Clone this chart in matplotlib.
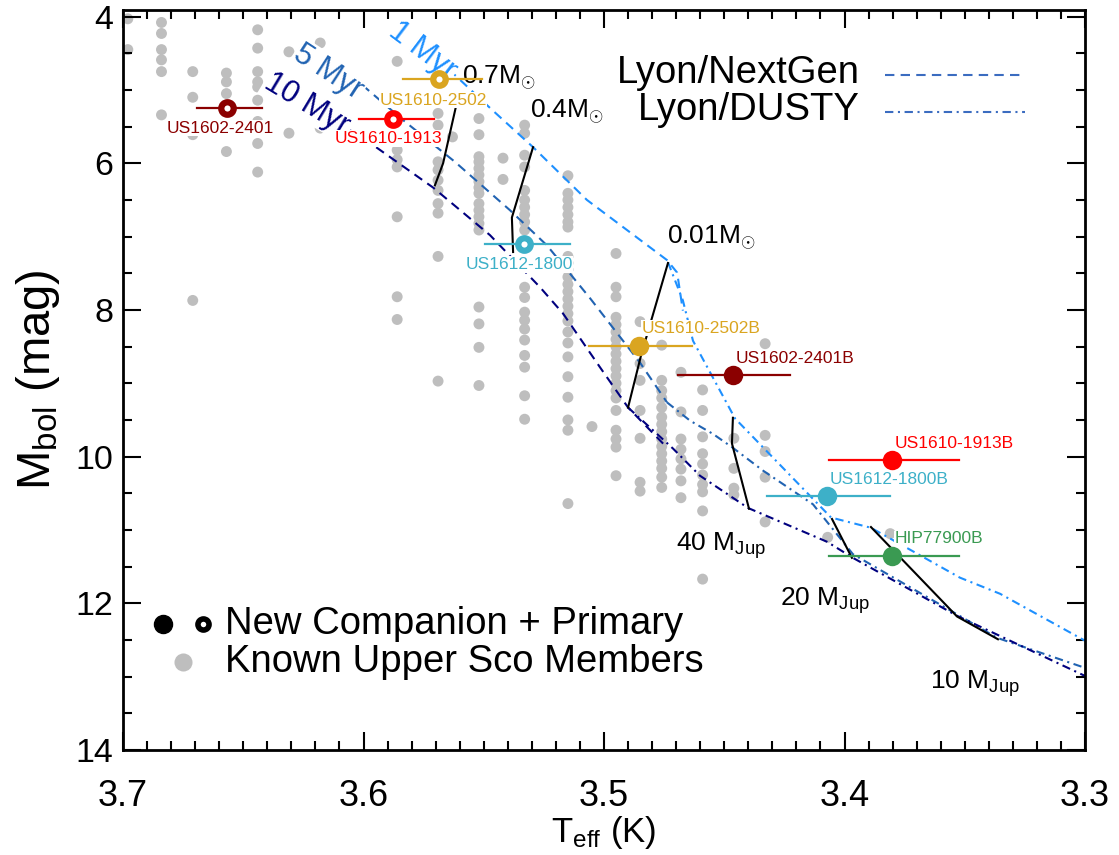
import matplotlib
matplotlib.use('Agg')
import matplotlib.pyplot as plt
from matplotlib.ticker import MultipleLocator

plt.rcParams['font.family'] = ['Liberation Sans', 'DejaVu Sans']
plt.rcParams['mathtext.fontset'] = 'custom'
plt.rcParams['mathtext.rm'] = 'Liberation Sans'
plt.rcParams['mathtext.it'] = 'Liberation Sans:italic'
plt.rcParams['mathtext.bf'] = 'Liberation Sans:bold'

# Known Upper Sco members: one Teff column per spectral type, Mbol values in each
member_teff = [3.698, 3.684, 3.671, 3.657, 3.644, 3.631, 3.618, 3.586, 3.569, 3.563,
               3.552, 3.542, 3.533, 3.515, 3.505, 3.495, 3.485, 3.476, 3.468, 3.459,
               3.446, 3.433, 3.407, 3.381]
member_mbol = [
    [4.03, 4.45],
    [4.08, 4.23, 4.45, 4.59, 4.75, 5.34],
    [4.75, 5.10, 5.61, 7.87],
    [4.77, 4.89, 5.05, 5.84],
    [4.18, 4.43, 4.75, 4.89, 4.96, 5.14, 5.43, 5.73, 6.12],
    [4.48, 5.59],
    [4.36, 5.52],
    [4.61, 5.14, 5.82, 5.95, 6.05, 6.73, 7.82, 8.13],
    [5.32, 5.48, 5.98, 6.09, 6.23, 6.37, 6.55, 6.68, 7.27, 8.97],
    [5.64],
    [5.39, 5.61, 5.91, 5.98, 6.07, 6.16, 6.25, 6.33, 6.41, 6.55, 6.64, 6.73, 6.82,
     6.91, 7.96, 8.19, 8.51, 9.03],
    [5.93, 6.22],
    [5.48, 5.59, 5.89, 6.05, 6.37, 6.50, 6.60, 6.70, 6.80, 6.91, 7.69, 7.83, 8.03,
     8.14, 8.26, 8.41, 8.62, 8.78, 9.17, 9.49],
    [6.17, 6.41, 6.50, 6.60, 6.70, 6.80, 6.87, 7.27, 7.36, 7.45, 7.55, 7.65, 7.75,
     7.85, 7.95, 8.05, 8.15, 8.30, 8.45, 8.64, 8.91, 9.19, 9.50, 9.64, 10.64],
    [9.59],
    [7.23, 7.69, 7.82, 8.10, 8.20, 8.30, 8.40, 8.50, 8.60, 8.70, 8.80, 8.90, 9.00,
     9.10, 9.20, 9.37, 9.64, 9.76, 9.87, 10.26],
    [8.16, 8.73, 8.96, 9.37, 9.75, 10.35, 10.47],
    [8.48, 8.96, 9.10, 9.20, 9.33, 9.46, 9.56, 9.66, 9.76, 9.86, 9.96, 10.06, 10.16,
     10.28, 10.42],
    [8.85, 9.39, 9.76, 9.90, 10.03, 10.17, 10.33, 10.56],
    [9.09, 9.37, 9.73, 9.96, 10.10, 10.25, 10.38, 10.48, 10.74, 11.67],
    [9.75, 10.16, 10.43, 10.52],
    [8.46, 9.71, 9.93, 10.28, 10.89],
    [11.10],
    [11.05],
]

# Lyon isochrones (NextGen = dashed, DUSTY = dash-dot)
iso1_ng_t = [3.5645, 3.5466, 3.5295, 3.5071, 3.4738, 3.4696, 3.4672]
iso1_ng_m = [4.72, 5.27, 5.78, 6.50, 7.32, 7.49, 8.01]
iso1_du_t = [3.4734, 3.4672, 3.4630, 3.4455, 3.4056, 3.3890, 3.3520, 3.3353, 3.3000]
iso1_du_m = [7.35, 7.87, 8.42, 9.48, 10.83, 10.97, 11.65, 11.87, 12.51]

iso5_ng_t = [3.6006, 3.5836, 3.5620, 3.5391, 3.5237, 3.5058, 3.4850, 3.4738]
iso5_ng_m = [4.93, 5.41, 5.98, 6.64, 7.12, 7.84, 8.72, 9.26]
iso5_du_t = [3.4738, 3.4642, 3.4547, 3.4464, 3.4339, 3.4131, 3.3965, 3.3532, 3.3366, 3.3000]
iso5_du_m = [9.26, 9.51, 9.69, 9.88, 10.19, 10.65, 11.33, 12.15, 12.47, 12.88]

iso10_ng_t = [3.6056, 3.5948, 3.5711, 3.5474, 3.5266, 3.5170, 3.5017, 3.4900, 3.4746]
iso10_ng_m = [5.55, 5.78, 6.33, 6.98, 7.69, 8.05, 8.78, 9.33, 9.85]
iso10_du_t = [3.4900, 3.4713, 3.4601, 3.4401, 3.4073, 3.3965, 3.3532, 3.3000]
iso10_du_m = [9.33, 9.89, 10.26, 10.70, 11.16, 11.38, 12.17, 12.99]

# mass tracks (1 -> 5 -> 10 Myr)
track_labels = [r'0.7M$_{\odot}$', r'0.4M$_{\odot}$', r'0.01M$_{\odot}$',
                r'40 M$_{\rm Jup}$', r'20 M$_{\rm Jup}$', r'10 M$_{\rm Jup}$']
track_t = [[3.5611, 3.5669, 3.5703], [3.5295, 3.5383, 3.5378], [3.4734, 3.4846, 3.4900],
           [3.4464, 3.4468, 3.4397], [3.4052, 3.3969], [3.3890, 3.3532, 3.3362]]
track_m = [[5.16, 6.00, 6.30], [5.78, 6.74, 7.21], [7.36, 8.62, 9.33],
           [9.47, 9.82, 10.71], [10.85, 11.38], [10.96, 12.18, 12.49]]
track_label_pos = [(3.5590, 4.84), (3.5308, 5.30), (3.4738, 7.01),
                   (3.4701, 11.22), (3.4268, 11.97), (3.3644, 13.09)]

# new companions and their primaries
star_names = ['US1602-2401', 'US1610-1913', 'US1610-2502', 'US1612-1800',
              'US1610-2502B', 'US1602-2401B', 'US1610-1913B', 'US1612-1800B', 'HIP77900B']
star_teff = [3.6569, 3.5876, 3.5686, 3.5331, 3.4853, 3.4465, 3.3804, 3.4074, 3.3804]
star_mbol = [5.25, 5.39, 4.85, 7.10, 8.49, 8.89, 10.05, 10.53, 11.35]
star_teff_hi = [3.6691, 3.6017, 3.5834, 3.5495, 3.5061, 3.4691, 3.4064, 3.4321, 3.4064]
star_teff_lo = [3.6423, 3.5707, 3.5509, 3.5141, 3.4635, 3.4227, 3.3524, 3.3811, 3.3524]
star_primary = [True, True, True, True, False, False, False, False, False]
star_colors = ['#8b0000', '#ff0000', '#daa520', '#3db0c8',
               '#daa520', '#8b0000', '#ff0000', '#3db0c8', '#3a9a52']
star_label_pos = [(3.6597, 5.52, 'center'), (3.5898, 5.66, 'center'),
                  (3.5711, 5.14, 'center'), (3.5353, 7.38, 'center'),
                  (3.4842, 8.25, 'left'), (3.4451, 8.66, 'left'),
                  (3.3790, 9.82, 'left'), (3.4060, 10.31, 'left'), (3.3790, 11.12, 'left')]

c1, c5, c10 = '#1e90ff', '#2163b2', '#00007f'
DASH = (0, (4.5, 3.0))
DASHDOT = (0, (4.0, 2.2, 1.0, 2.2))

fig = plt.figure(figsize=(11.19, 8.55), dpi=100)
ax = fig.add_axes([123 / 1119, 105 / 855, 962 / 1119, 740 / 855])

for t, ms in zip(member_teff, member_mbol):
    ax.scatter([t] * len(ms), ms, s=62, color='#bebebe', edgecolors='none', zorder=1)

for (tn, mn, td, md, col) in [(iso1_ng_t, iso1_ng_m, iso1_du_t, iso1_du_m, c1),
                              (iso5_ng_t, iso5_ng_m, iso5_du_t, iso5_du_m, c5),
                              (iso10_ng_t, iso10_ng_m, iso10_du_t, iso10_du_m, c10)]:
    ax.plot(tn, mn, color=col, lw=1.5, ls=DASH, zorder=2)
    ax.plot(td, md, color=col, lw=1.5, ls=DASHDOT, zorder=2)

for tt, mm, lab, (lx, ly) in zip(track_t, track_m, track_labels, track_label_pos):
    ax.plot(tt, mm, color='black', lw=1.5, zorder=3)
    ax.text(lx, ly, lab, fontsize=19, ha='left', va='center', zorder=6)

# isochrone age labels
bb = dict(facecolor='white', edgecolor='none', pad=1)
ax.text(3.5755, 4.47, '1 Myr', color=c1, fontsize=22, rotation=-37,
        ha='center', va='center', bbox=bb, zorder=5)
ax.text(3.6145, 4.76, '5 Myr', color=c5, fontsize=22, rotation=-33,
        ha='center', va='center', bbox=bb, zorder=5)
ax.text(3.6235, 5.19, '10 Myr', color=c10, fontsize=22, rotation=-31,
        ha='center', va='center', bbox=bb, zorder=5)

for i, name in enumerate(star_names):
    col = star_colors[i]
    lx, ly, ha = star_label_pos[i]
    ax.text(lx, ly, name, color=col, fontsize=12.5, ha=ha, va='center', zorder=7,
            bbox=dict(facecolor='white', edgecolor='none', pad=0.5))
    ax.plot([star_teff_lo[i], star_teff_hi[i]], [star_mbol[i], star_mbol[i]],
            color=col, lw=1.6, zorder=8)
    if star_primary[i]:
        ax.plot(star_teff[i], star_mbol[i], 'o', ms=9, mfc='white', mec=col, mew=4.5, zorder=9)
    else:
        ax.plot(star_teff[i], star_mbol[i], 'o', ms=14, color=col, mec='none', zorder=9)

# model legend (top right)
tr = ax.transAxes
ax.text(0.766, 0.915, 'Lyon/NextGen', transform=tr, fontsize=27.5, ha='right', va='center')
ax.text(0.766, 0.865, 'Lyon/DUSTY', transform=tr, fontsize=27.5, ha='right', va='center')
ax.plot([0.792, 0.938], [0.912, 0.912], transform=tr, color='#3b6cc0', lw=1.5, ls=DASH)
ax.plot([0.792, 0.938], [0.862, 0.862], transform=tr, color='#3b6cc0', lw=1.5, ls=DASHDOT)

# symbol legend (bottom left)
ax.plot(0.0416, 0.170, 'o', transform=tr, ms=13, color='black', clip_on=False)
ax.plot(0.0832, 0.170, 'o', transform=tr, ms=8, mfc='white', mec='black', mew=4)
ax.plot(0.0624, 0.119, 'o', transform=tr, ms=13, color='#bebebe', mec='none')
ax.text(0.106, 0.170, 'New Companion + Primary', transform=tr, fontsize=27.5, va='center')
ax.text(0.106, 0.119, 'Known Upper Sco Members', transform=tr, fontsize=27.5, va='center')

ax.set_xlim(3.7, 3.3)
ax.set_ylim(14, 3.91)
ax.xaxis.set_major_locator(MultipleLocator(0.1))
ax.xaxis.set_minor_locator(MultipleLocator(0.01))
ax.yaxis.set_major_locator(MultipleLocator(2))
ax.yaxis.set_minor_locator(MultipleLocator(0.5))
ax.tick_params(which='both', direction='in', top=True, right=True, width=1.5)
ax.tick_params(which='major', length=13)
ax.tick_params(which='minor', length=6.5)
ax.tick_params(axis='y', labelsize=24.5, pad=7)
ax.tick_params(axis='x', labelsize=26, pad=21)
for sp in ax.spines.values():
    sp.set_linewidth(2.0)

ax.set_xlabel(r'T$_{\rm eff}$ (K)', fontsize=25, labelpad=0)
ax.set_ylabel(r'M$_{\rm bol}$ (mag)', fontsize=34, labelpad=10)

fig.savefig('out.png', dpi=100)
